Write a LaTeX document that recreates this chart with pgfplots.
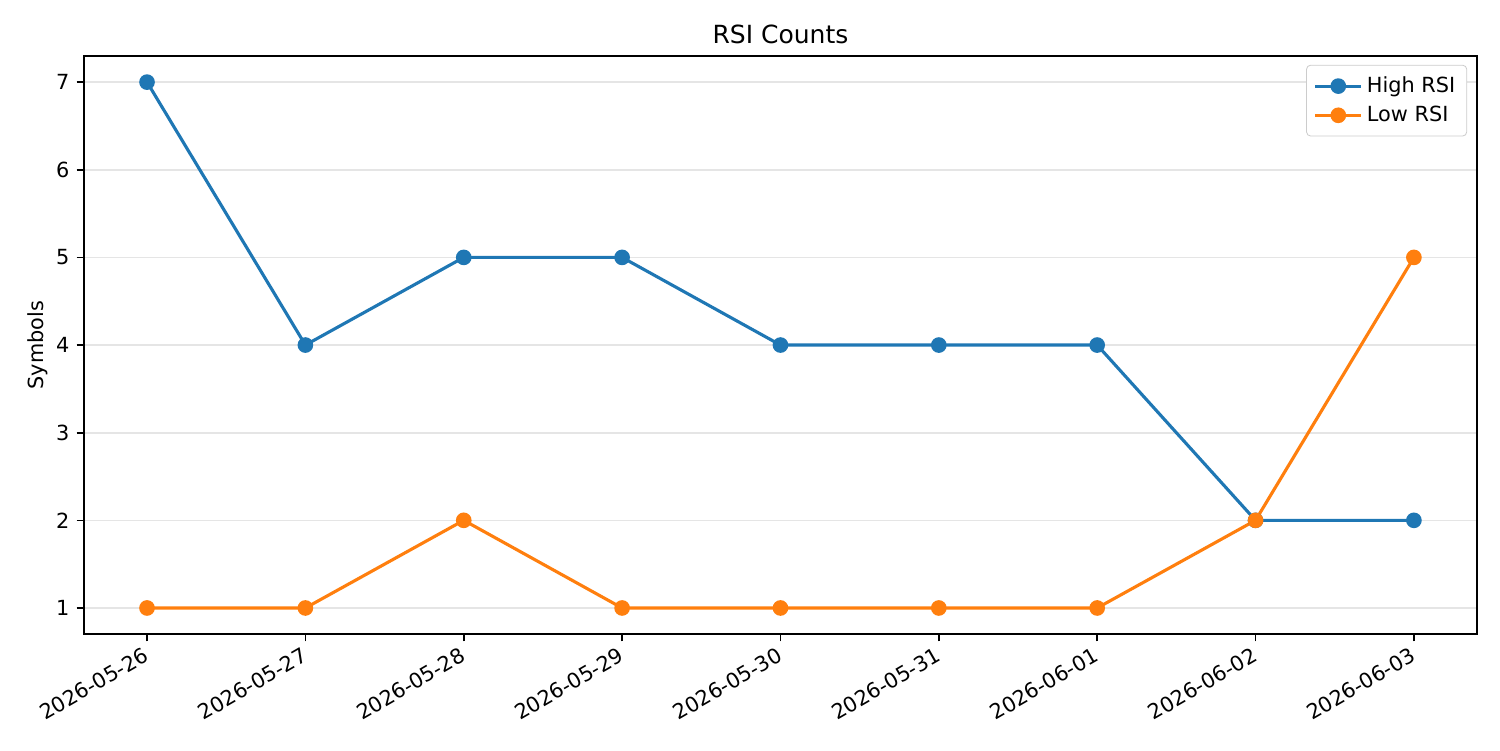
\documentclass[border=0pt]{standalone}
\usepackage{pgfplots}
\pgfplotsset{compat=1.18}
\usepackage{fontspec}
\setmainfont{DejaVu Sans}
\definecolor{c0}{HTML}{1F77B4}
\definecolor{c1}{HTML}{FF7F0E}
\begin{document}
\begin{tikzpicture}[x=1pt,y=1pt]
\useasboundingbox (0,0) rectangle (720,360);
\begin{axis}[
  at={(40.32pt,55.68pt)}, anchor=south west,
  scale only axis, width=668.6pt, height=277.4pt,
  xmin=-0.398, xmax=8.398, ymin=0.703, ymax=7.297,
  xtick={0,...,8},
  xticklabels={2026-05-26,2026-05-27,2026-05-28,2026-05-29,2026-05-30,2026-05-31,2026-06-01,2026-06-02,2026-06-03},
  xticklabel style={rotate=30, anchor=north east, inner sep=1pt, xshift=-2pt, font=\fontsize{10}{12}\selectfont},
  ytick={1,...,7},
  yticklabel style={font=\fontsize{10}{12}\selectfont},
  /pgf/number format/assume math mode=true,
  tick align=outside, tick pos=left,
  major tick length=3.5pt,
  every tick/.style={black, line width=0.8pt},
  axis line style={line width=0.8pt},
  ymajorgrids, grid style={gray!20, line width=0.8pt},
  title={RSI Counts}, title style={font=\fontsize{12}{14}\selectfont, yshift=-3.5pt},
  ylabel={Symbols}, ylabel style={font=\fontsize{10}{12}\selectfont, yshift=-3pt},
  legend style={font=\fontsize{10}{12}\selectfont, draw=gray!40, rounded corners=2pt, inner sep=3.5pt, row sep=1pt, at={(0.993,0.985)}, anchor=north east},
  legend cell align=left,
  legend image code/.code={
    \draw[#1, mark repeat=2, mark phase=2] plot coordinates {(0pt,0pt) (11pt,0pt) (22pt,0pt)};
  },
]
\addplot[c0, line width=1.5pt, mark=*, mark size=3pt] coordinates {(0,7)(1,4)(2,5)(3,5)(4,4)(5,4)(6,4)(7,2)(8,2)};
\addlegendentry{High RSI}
\addplot[c1, line width=1.5pt, mark=*, mark size=3pt] coordinates {(0,1)(1,1)(2,2)(3,1)(4,1)(5,1)(6,1)(7,2)(8,5)};
\addlegendentry{Low RSI}
\end{axis}
\end{tikzpicture}
\end{document}
